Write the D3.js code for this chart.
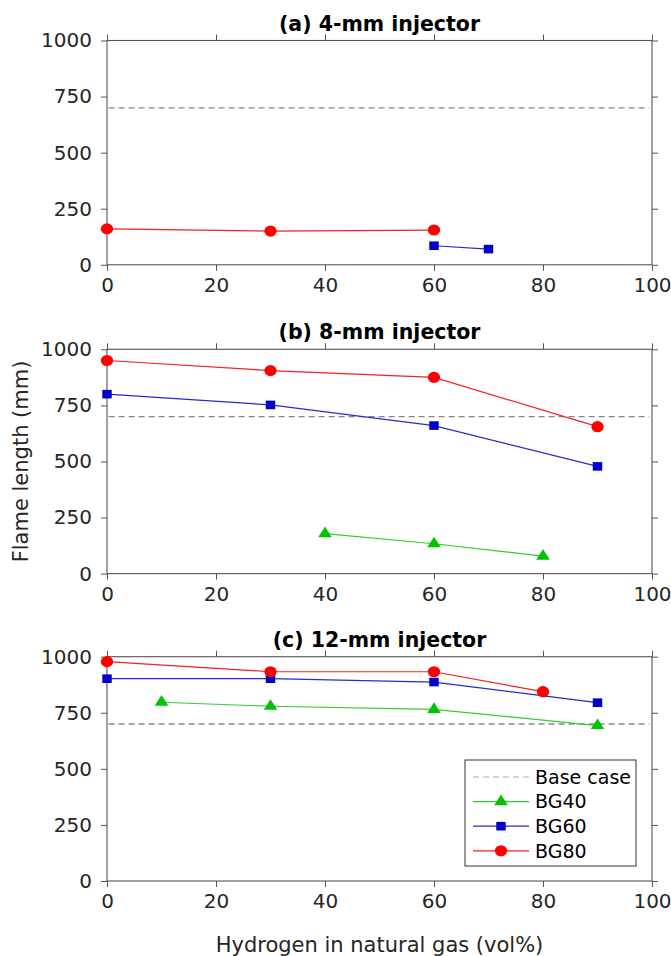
<!DOCTYPE html>
<html>
<head>
<meta charset="utf-8">
<script src="https://cdn.jsdelivr.net/npm/d3@7"></script>
<style>
  body { margin: 0; background: #fff; }
  svg { font-family: "DejaVu Sans", sans-serif; }
</style>
</head>
<body>
<div id="chart"></div>
<script>
const panelTitles = ["(a) 4-mm injector", "(b) 8-mm injector", "(c) 12-mm injector"];
const xTicks = [0, 20, 40, 60, 80, 100];
const yTicks = [0, 250, 500, 750, 1000];
const baseCase = 700;

// per panel: [a, b, c]
const bg40X = [[], [40, 60, 80], [10, 30, 60, 90]];
const bg40Y = [[], [178, 133, 78], [797, 779, 765, 693]];
const bg60X = [[60, 70], [0, 30, 60, 90], [0, 30, 60, 90]];
const bg60Y = [[85, 70], [800, 752, 660, 478], [902, 902, 887, 795]];
const bg80X = [[0, 30, 60], [0, 30, 60, 90], [0, 30, 60, 80]];
const bg80Y = [[160, 150, 155], [950, 905, 875, 655], [978, 933, 933, 844]];

const seriesNames = ["BG40", "BG60", "BG80"];

const W = 671, H = 956;
const left = 107, right = 652;
const panelTops = [40.5, 349.3, 656.7];
const panelH = 224.3;

const cfg = {
    axisColor: "#555",
    textColor: "#262626",
    tickLen: 6,
    colors: {BG40: "#00c400", BG60: "#0000c8", BG80: "#ff0000"},
    lineColors: {BG40: "#33cc33", BG60: "#2a2acc", BG80: "#ee2222"},
}

const svg = d3.select("#chart").append("svg")
    .attr("width", W)
    .attr("height", H);

const x = d3.scaleLinear().domain([0, 100]).range([left, right]);

const symbolFor = {
    BG40: d3.symbolTriangle,
    BG60: d3.symbolSquare,
    BG80: d3.symbolCircle,
}
const symbolSize = {BG40: 66, BG60: 74, BG80: 98};

function drawMarker(g, name, px, py) {
    const sym = d3.symbol().type(symbolFor[name]).size(symbolSize[name]);
    g.append("path")
        .attr("d", sym())
        .attr("transform", `translate(${px},${py}) scale(1.1,1)`)
        .attr("fill", cfg.colors[name]);
}

panelTitles.forEach((title, i) => {
    const top = panelTops[i];
    const y = d3.scaleLinear().domain([0, 1000]).range([top + panelH, top]);
    const g = svg.append("g");

    // axes with outward ticks on all four sides
    const axL = g.append("g").attr("transform", `translate(${left},0)`)
        .call(d3.axisLeft(y).tickValues(yTicks).tickFormat(d3.format("d"))
            .tickSize(cfg.tickLen).tickSizeOuter(0).tickPadding(9));
    const axR = g.append("g").attr("transform", `translate(${right},0)`)
        .call(d3.axisRight(y).tickValues(yTicks).tickSize(cfg.tickLen).tickSizeOuter(0).tickFormat(""));
    const axB = g.append("g").attr("transform", `translate(0,${top + panelH})`)
        .call(d3.axisBottom(x).tickValues(xTicks).tickFormat(d3.format("d"))
            .tickSize(cfg.tickLen).tickSizeOuter(0).tickPadding(7));
    const axT = g.append("g").attr("transform", `translate(0,${top})`)
        .call(d3.axisTop(x).tickValues(xTicks).tickSize(cfg.tickLen).tickSizeOuter(0).tickFormat(""));

    [axL, axR, axB, axT].forEach(a => {
        a.select(".domain").remove();
        a.selectAll(".tick line").attr("stroke", cfg.axisColor);
        a.selectAll("text")
            .attr("fill", cfg.textColor)
            .style("font-size", "20px")
            .style("font-family", "DejaVu Sans, sans-serif");
    });
    axB.selectAll("text").attr("dy", "0.71em");

    g.append("rect")
        .attr("x", left).attr("y", top)
        .attr("width", right - left).attr("height", panelH)
        .attr("fill", "none")
        .attr("stroke", cfg.axisColor)
        .attr("stroke-width", 1.1);

    g.append("text")
        .attr("x", (left + right) / 2)
        .attr("y", top - 10)
        .attr("text-anchor", "middle")
        .attr("fill", "#000")
        .style("font-size", "20.5px")
        .style("font-weight", "bold")
        .text(title);

    // base case
    g.append("line")
        .attr("x1", x(0.3)).attr("x2", x(99.5))
        .attr("y1", y(baseCase)).attr("y2", y(baseCase))
        .attr("stroke", "#888")
        .attr("stroke-width", 1.3)
        .attr("stroke-dasharray", "6,4");

    const series = [
        ["BG40", bg40X[i], bg40Y[i]],
        ["BG60", bg60X[i], bg60Y[i]],
        ["BG80", bg80X[i], bg80Y[i]],
    ];
    const line = d3.line().x(d => x(d[0])).y(d => y(d[1]));
    series.forEach(([name, xs, ys]) => {
        if (!xs.length) return;
        const pts = xs.map((v, k) => [v, ys[k]]);
        g.append("path")
            .attr("d", line(pts))
            .attr("fill", "none")
            .attr("stroke", cfg.lineColors[name])
            .attr("stroke-width", 1.2);
        pts.forEach(p => drawMarker(g, name, x(p[0]), y(p[1])));
    });
});

// axis labels
svg.append("text")
    .attr("transform", `translate(28,${panelTops[1] + panelH / 2}) rotate(-90)`)
    .attr("text-anchor", "middle")
    .attr("fill", cfg.textColor)
    .style("font-size", "21px")
    .text("Flame length (mm)");

svg.append("text")
    .attr("x", (left + right) / 2)
    .attr("y", 952)
    .attr("text-anchor", "middle")
    .attr("fill", cfg.textColor)
    .style("font-size", "21px")
    .text("Hydrogen in natural gas (vol%)");

// legend
const lg = svg.append("g").attr("transform", "translate(465,760)");
lg.append("rect")
    .attr("width", 171).attr("height", 106)
    .attr("fill", "#fff")
    .attr("stroke", "#333")
    .attr("stroke-width", 1);

const legendItems = ["Base case"].concat(seriesNames);
legendItems.forEach((name, k) => {
    const ly = 17 + k * 24.6;
    const ln = lg.append("line")
        .attr("x1", 8).attr("x2", 64)
        .attr("y1", ly).attr("y2", ly)
        .attr("stroke-width", 1.2);
    if (name === "Base case") {
        ln.attr("stroke", "#aaa").attr("stroke-dasharray", "6,4");
    } else {
        ln.attr("stroke", cfg.lineColors[name]);
        drawMarker(lg, name, 36, ly);
    }
    lg.append("text")
        .attr("x", 70)
        .attr("y", ly)
        .attr("dy", "0.36em")
        .attr("fill", "#000")
        .style("font-size", "19px")
        .text(name);
});
</script>
</body>
</html>
